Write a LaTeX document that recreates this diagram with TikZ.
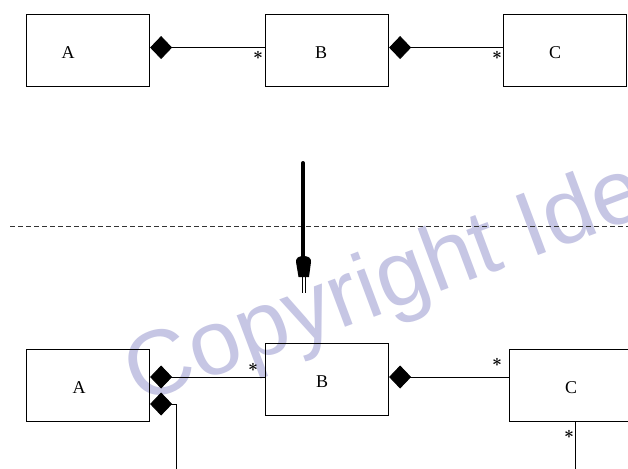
\documentclass[tikz,border=0pt]{standalone}
\usepackage{fontspec}
\setmainfont{Liberation Serif}
\newfontfamily\markfont{Liberation Sans}
\usetikzlibrary{arrows.meta}
\definecolor{wmark}{RGB}{198,198,228}

\begin{document}
\begin{tikzpicture}[x=1pt,y=-1pt,
  cls/.style={draw, line width=1.1pt, minimum width=123pt, minimum height=72pt,
              inner sep=0pt, anchor=north west},
  clsname/.style={font=\fontsize{18}{18}\selectfont, inner sep=0pt},
  mult/.style={font=\fontsize{18}{18}\selectfont\boldmath, inner sep=0pt},
  comp/.style={line width=0.9pt, {Diamond[length=22pt,width=23pt]}-},
  link/.style={line width=0.9pt},
  cut/.style={line width=0.8pt, dash pattern=on 5pt off 3pt, black!80},
]
\path[use as bounding box, fill=white] (0,0) rectangle (628,468);
\clip (0,0) rectangle (628,468);

% watermark
\node[font=\markfont\fontsize{92}{92}\selectfont, text=wmark, anchor=base west,
      rotate=20.5, inner sep=0pt] (wm) at (138,405) {Copyright Ide};

% ---- upper diagram ----
\node[cls] (A1) at (26,14) {};
\node[cls] (B1) at (265,14) {};
\node[cls] (C1) at (503,14) {};
\node[clsname] (nA1) at ([xshift=-20pt,yshift=-2pt]A1.center) {A};
\node[clsname] (nB1) at ([xshift=-6pt,yshift=-2pt]B1.center) {B};
\node[clsname] (nC1) at ([xshift=-10pt,yshift=-2pt]C1.center) {C};

\draw[comp] ([yshift=3pt]A1.east) -- ([yshift=3pt]B1.west);
\draw[comp] ([yshift=3pt]B1.east) -- ([yshift=3pt]C1.west);
\node[mult] (s1) at (258,55) {$\ast$};
\node[mult] (s2) at (497,55) {$\ast$};

% ---- transformation arrow and cut line ----
\coordinate (cl) at (10,226);
\coordinate (cr) at (628,226);
\draw[cut] (cl) -- (cr);

\coordinate (ar0) at (303,163);
\coordinate (ar1) at (303,262);
\draw[line width=4pt, line cap=round] (ar0) -- (ar1);
\fill (296,262) .. controls (295.5,258) and (299,256) .. (303.5,256)
      .. controls (308,256) and (311.5,258) .. (311,262)
      -- (309,277) -- (298.5,277) -- cycle;
\draw[line width=0.7pt] (302,276) -- (302,293);
\draw[line width=0.7pt] (305.5,276) -- (305.5,293);

% ---- lower diagram ----
\node[cls] (A2) at (26,349) {};
\node[cls] (B2) at (265,343) {};
\node[cls] (C2) at (509,349) {};
\node[clsname] (nA2) at ([xshift=-9pt,yshift=-2pt]A2.center) {A};
\node[clsname] (nB2) at ([xshift=-5pt,yshift=-2pt]B2.center) {B};
\node[clsname] (nC2) at ([xshift=0pt,yshift=-2pt]C2.center) {C};

\coordinate (d1) at (A2.east |- 0,377);
\coordinate (d2) at (A2.east |- 0,404);
\coordinate (bw) at (B2.west |- 0,377);
\coordinate (be) at (B2.east |- 0,377);
\coordinate (cw) at (C2.west |- 0,377);
\coordinate (k2) at (176,404);
\coordinate (k3) at (176,470);
\coordinate (cb) at (575,421);
\coordinate (cd) at (575,470);

\draw[comp] (d1) -- (bw);
\draw[comp] (d2) -- (k2) -- (k3);
\draw[comp] (be) -- (cw);
\draw[link] (cb) -- (cd);

\node[mult] (s3) at (253,367) {$\ast$};
\node[mult] (s4) at (497,362) {$\ast$};
\node[mult] (s5) at (569,434) {$\ast$};
\end{tikzpicture}
\end{document}
